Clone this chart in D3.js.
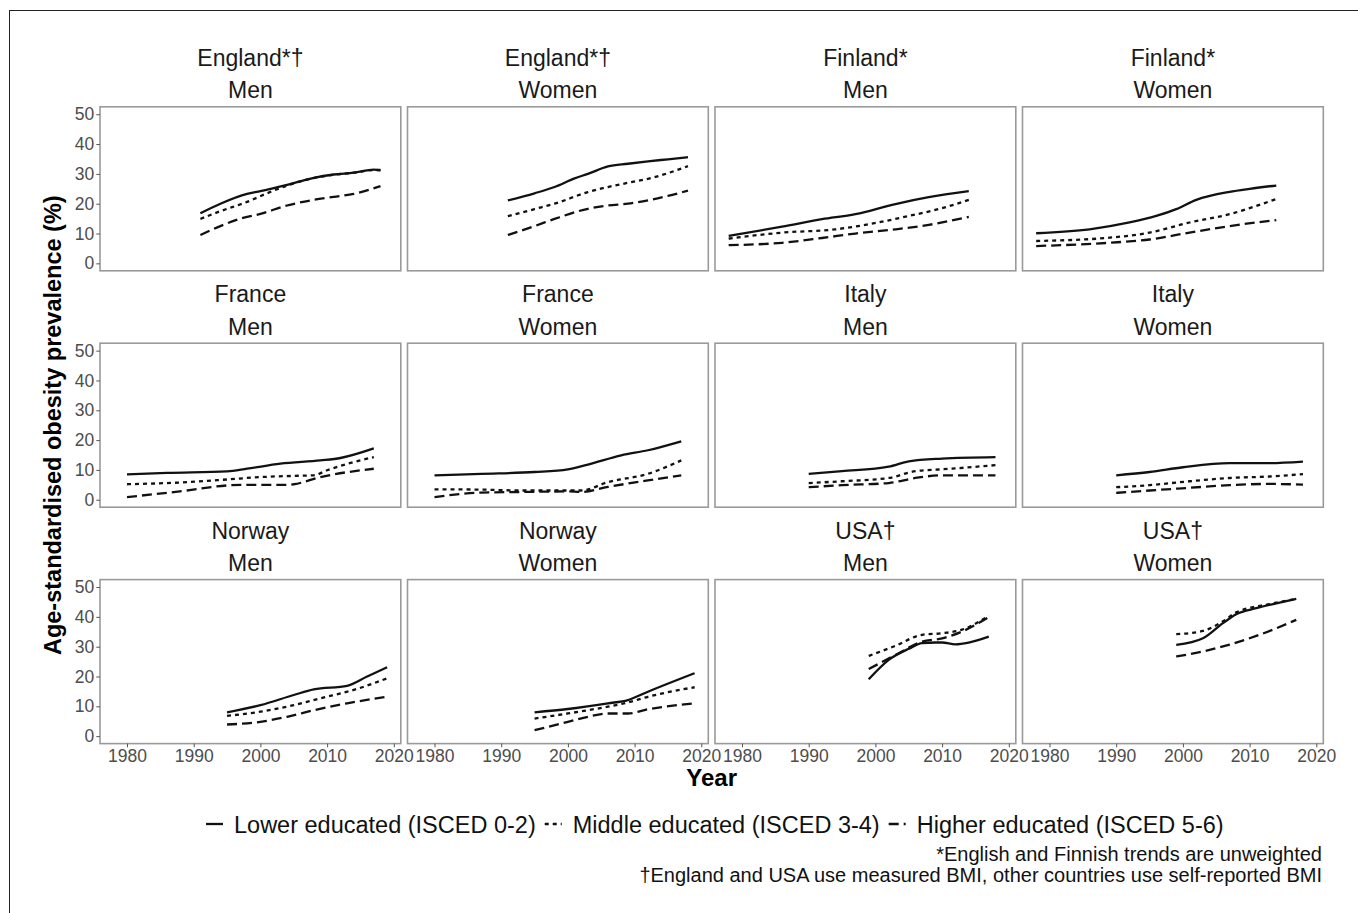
<!DOCTYPE html>
<html>
<head>
<meta charset="utf-8">
<script src="https://cdn.jsdelivr.net/npm/d3@7"></script>
<style>
  body { margin: 0; background: #fff; }
  svg { display: block; font-family: "Liberation Sans", Arial, sans-serif; }
</style>
</head>
<body>
<div id="chart"></div>
<script>
// panel strip labels, row by row
const countries = ["England*†", "England*†", "Finland*", "Finland*",
                   "France", "France", "Italy", "Italy",
                   "Norway", "Norway", "USA†", "USA†"];
const sexes = ["Men", "Women", "Men", "Women", "Men", "Women",
               "Men", "Women", "Men", "Women", "Men", "Women"];

const yearTicks = [1980, 1990, 2000, 2010, 2020];
const prevTicks = [0, 10, 20, 30, 40, 50];

const eduLabels = ["Lower educated (ISCED 0-2)", "Middle educated (ISCED 3-4)", "Higher educated (ISCED 5-6)"];

// [year, prevalence %]
const englandMen = [
  [[1991,16.8],[1994,20.0],[1998,23.3],[2000,24.2],[2004,26.3],[2008,28.7],[2011,29.8],[2014,30.4],[2017,31.4],[2018,31.2]],
  [[1991,14.9],[1994,17.5],[1998,20.6],[2001,23.5],[2004,26.1],[2008,28.6],[2011,29.7],[2014,30.4],[2017,31.3],[2018,31.3]],
  [[1991,9.5],[1994,12.5],[1997,15.0],[2000,16.6],[2004,19.4],[2008,21.3],[2011,22.3],[2014,23.3],[2018,25.9]]
];
const englandWomen = [
  [[1991,21.1],[1995,23.5],[1998,25.6],[2001,28.5],[2003,30.0],[2006,32.5],[2009,33.4],[2012,34.2],[2015,34.9],[2018,35.6]],
  [[1991,15.8],[1995,18.2],[1998,20.0],[2003,23.9],[2006,25.6],[2009,27.0],[2013,28.9],[2016,31.0],[2018,32.6]],
  [[1991,9.5],[1995,12.5],[1998,14.9],[2003,18.3],[2006,19.4],[2009,20.0],[2012,21.1],[2015,22.6],[2018,24.4]]
];
const finlandMen = [
  [[1978,9.2],[1986,12.3],[1992,14.8],[1997,16.5],[2003,19.9],[2008,22.2],[2014,24.2]],
  [[1978,8.3],[1986,10.3],[1994,11.4],[1999,13.1],[2005,15.9],[2010,18.5],[2014,21.3]],
  [[1978,6.1],[1986,6.9],[1992,8.5],[1997,10.0],[2003,11.4],[2008,12.9],[2014,15.6]]
];
const finlandWomen = [
  [[1978,10.1],[1986,11.4],[1992,13.7],[1996,15.9],[1999,18.2],[2002,21.3],[2007,24.0],[2010,25.0],[2014,26.1]],
  [[1978,7.5],[1989,8.6],[1995,10.3],[2001,13.7],[2007,16.5],[2014,21.6]],
  [[1978,5.8],[1989,6.9],[1995,8.0],[2001,10.3],[2007,12.5],[2014,14.5]]
];
const franceMen = [
  [[1980,8.5],[1986,9.0],[1995,9.5],[1998,10.4],[2003,12.1],[2009,13.2],[2012,14.0],[2017,17.2]],
  [[1980,5.2],[1989,5.9],[1995,6.8],[2000,7.6],[2005,8.0],[2008,8.2],[2010,9.9],[2017,14.3]],
  [[1980,0.9],[1989,3.1],[1995,4.8],[1998,5.0],[2004,5.0],[2005,5.2],[2009,7.6],[2017,10.4]]
];
const franceWomen = [
  [[1980,8.2],[1987,8.7],[1995,9.3],[2000,10.2],[2003,11.8],[2008,14.9],[2012,16.6],[2017,19.6]],
  [[1980,3.5],[1987,3.4],[1993,3.1],[2000,3.1],[2002,3.1],[2006,5.9],[2012,8.7],[2017,13.2]],
  [[1980,0.9],[1987,2.4],[1993,2.6],[2000,2.8],[2002,2.6],[2006,4.3],[2012,6.5],[2017,8.2]]
];
const italyMen = [
  [[1990,8.7],[1995,9.6],[2002,11.1],[2005,12.9],[2010,13.8],[2018,14.3]],
  [[1990,5.6],[1995,6.2],[2002,7.3],[2006,9.6],[2010,10.2],[2018,11.6]],
  [[1990,4.2],[1995,4.9],[2002,5.6],[2006,7.3],[2010,8.2],[2018,8.2]]
];
const italyWomen = [
  [[1990,8.2],[1995,9.3],[2000,10.9],[2007,12.3],[2013,12.3],[2018,12.8]],
  [[1990,4.2],[1995,4.9],[2001,6.2],[2007,7.3],[2013,7.8],[2018,8.6]],
  [[1990,2.3],[1995,3.1],[2001,4.0],[2007,4.9],[2013,5.3],[2018,5.1]]
];
const norwayMen = [
  [[1995,8.0],[2000,10.4],[2005,13.8],[2008,15.7],[2013,16.9],[2016,20.0],[2019,23.1]],
  [[1995,6.8],[2000,8.2],[2005,10.4],[2009,12.7],[2014,15.5],[2019,19.4]],
  [[1995,3.9],[2000,4.8],[2004,6.5],[2008,8.7],[2013,11.0],[2019,13.2]]
];
const norwayWomen = [
  [[1995,8.0],[2000,9.1],[2006,11.0],[2009,12.1],[2012,14.9],[2019,21.1]],
  [[1995,5.9],[2000,7.6],[2006,9.9],[2009,11.3],[2012,13.2],[2019,16.4]],
  [[1995,2.0],[2000,4.8],[2003,6.5],[2006,7.6],[2009,7.6],[2012,9.0],[2019,11.0]]
];
const usaMen = [
  [[1999,19.1],[2002,25.6],[2005,29.3],[2007,31.2],[2009,31.4],[2010,31.4],[2012,30.8],[2014,31.4],[2017,33.4]],
  [[1999,26.9],[2003,30.3],[2007,34.0],[2010,34.5],[2013,35.7],[2017,40.4]],
  [[1999,22.5],[2003,27.2],[2007,31.7],[2010,32.8],[2013,35.1],[2017,39.9]]
];
const usaWomen = [
  [[1999,30.6],[2003,32.8],[2006,37.9],[2008,40.9],[2011,42.9],[2014,44.5],[2017,46.0]],
  [[1999,34.2],[2003,35.3],[2006,38.5],[2008,41.5],[2013,44.3],[2017,46.0]],
  [[1999,26.7],[2003,28.4],[2007,30.7],[2011,33.6],[2017,39.0]]
];

const panelData = [englandMen, englandWomen, finlandMen, finlandWomen,
                   franceMen, franceWomen, italyMen, italyWomen,
                   norwayMen, norwayWomen, usaMen, usaWomen];

const W = 1358, H = 913;
const left0 = 100, top0 = 106.8;
const pw = 300.8, ph = 164;
const colStep = 307.5, rowStep = 236.4;
const dashes = [null, "4,4", "10,5"];
const font = "Liberation Sans, Arial, sans-serif";

const svg = d3.select("#chart").append("svg")
  .attr("width", W).attr("height", H);

// outer frame of the figure
svg.append("rect")
  .attr("x", 9.5).attr("y", 10.5)
  .attr("width", W).attr("height", H)
  .attr("fill", "none").attr("stroke", "#222").attr("stroke-width", 1);

// shared scales, ggplot-style 5% expansion
const x = d3.scaleLinear().domain([1975.95, 2021.05]).range([0, pw]);
const y = d3.scaleLinear().domain([-2.5, 52.5]).range([ph, 0]);

const line = d3.line()
  .x(d => x(d[0]))
  .y(d => y(d[1]))
  .curve(d3.curveMonotoneX);

panelData.forEach((series, i) => {
  const col = i % 4, row = Math.floor(i / 4);
  const g = svg.append("g")
    .attr("transform", `translate(${left0 + col * colStep},${top0 + row * rowStep})`);

  // strip labels
  g.append("text")
    .attr("x", pw / 2).attr("y", -40.8)
    .attr("text-anchor", "middle")
    .attr("font-size", 23).attr("fill", "#1a1a1a")
    .text(countries[i]);
  g.append("text")
    .attr("x", pw / 2).attr("y", -8.5)
    .attr("text-anchor", "middle")
    .attr("font-size", 23).attr("fill", "#1a1a1a")
    .text(sexes[i]);

  series.forEach((pts, k) => {
    g.append("path")
      .datum(pts)
      .attr("d", line)
      .attr("fill", "none")
      .attr("stroke", "#111")
      .attr("stroke-width", 2.3)
      .attr("stroke-dasharray", dashes[k]);
  });

  g.append("rect")
    .attr("width", pw).attr("height", ph)
    .attr("fill", "none").attr("stroke", "#9a9a9a").attr("stroke-width", 1.6);

  if (col === 0) {
    const ax = g.append("g")
      .call(d3.axisLeft(y).tickValues(prevTicks).tickSize(3.7).tickPadding(2));
    ax.select(".domain").remove();
    ax.selectAll("line").attr("stroke", "#555");
    ax.selectAll("text").attr("font-size", 17.5).attr("fill", "#4d4d4d")
      .attr("font-family", font);
  }
  if (row === 2) {
    const ax = g.append("g")
      .attr("transform", `translate(0,${ph})`)
      .call(d3.axisBottom(x).tickValues(yearTicks).tickFormat(d3.format("d")).tickSize(3.7).tickPadding(2));
    ax.select(".domain").remove();
    ax.selectAll("line").attr("stroke", "#555");
    ax.selectAll("text").attr("font-size", 17.5).attr("fill", "#4d4d4d")
      .attr("font-family", font);
  }
});

// axis titles
const midX = left0 + (3 * colStep + pw) / 2;
const midY = top0 + (2 * rowStep + ph) / 2;
svg.append("text")
  .attr("x", midX).attr("y", 786)
  .attr("text-anchor", "middle")
  .attr("font-size", 24).attr("font-weight", "bold").attr("fill", "#000")
  .text("Year");
svg.append("text")
  .attr("transform", `translate(61,${midY}) rotate(-90)`)
  .attr("text-anchor", "middle")
  .attr("font-size", 23.5).attr("font-weight", "bold").attr("fill", "#000")
  .text("Age-standardised obesity prevalence (%)");

// legend, laid out left to right
const legend = svg.append("g").attr("transform", "translate(206,824)");
let lx = 0;
eduLabels.forEach((lab, k) => {
  legend.append("line")
    .attr("x1", lx).attr("x2", lx + 17)
    .attr("stroke", "#111").attr("stroke-width", 2.3)
    .attr("stroke-dasharray", dashes[k]);
  const t = legend.append("text")
    .attr("x", lx + 28).attr("y", 8.5)
    .attr("font-size", 23.5).attr("fill", "#111")
    .text(lab);
  lx += 28 + t.node().getComputedTextLength() + 9;
});

// footnotes
const notes = ["*English and Finnish trends are unweighted",
               "†England and USA use measured BMI, other countries use self-reported BMI"];
notes.forEach((n, j) => {
  svg.append("text")
    .attr("x", 1322).attr("y", 861 + j * 20.5)
    .attr("text-anchor", "end")
    .attr("font-size", 20).attr("fill", "#111")
    .text(n);
});
</script>
</body>
</html>
